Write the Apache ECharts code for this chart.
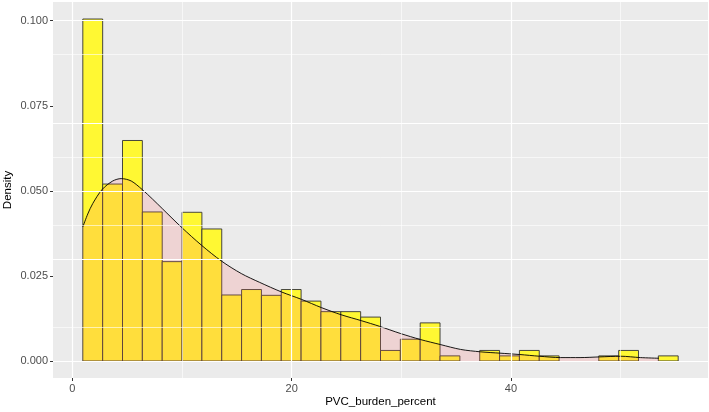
<!DOCTYPE html>
<html>
<head>
<meta charset="utf-8">
<script src="https://cdn.jsdelivr.net/npm/echarts@6/dist/echarts.min.js"></script>
<style>
html,body{margin:0;padding:0;background:#fff;}
#chart{width:709px;height:412px;}
</style>
</head>
<body>
<div id="chart"></div>
<script>
// ---- data ----
var binStart = 0.95;
var binWidth = 1.81;
var histDensity = [0.1005, 0.0520, 0.0648, 0.0438, 0.0292, 0.0437, 0.0388, 0.0194, 0.0210, 0.0193,
                   0.0210, 0.0176, 0.0145, 0.0145, 0.0129, 0.0031, 0.0064, 0.0112, 0.0015, 0.0,
                   0.0031, 0.0015, 0.0031, 0.0015, 0.0, 0.0, 0.0015, 0.0031, 0.0, 0.0015];
var densityX = [0.95, 1.4, 1.86, 2.71, 3.68, 4.45, 5.36, 6.36, 7.3, 8.19, 9.98, 11.78, 13.58, 15.4, 17.08,
                19.06, 20.9, 22.7, 24.5, 26.4, 28.0, 29.9, 31.75, 33.6, 35.4, 37.2, 39.0, 40.8,
                42.6, 44.5, 46.3, 48.1, 50.0, 51.8, 53.5];
var densityY = [0.0394, 0.0432, 0.0463, 0.0504, 0.0529, 0.0536, 0.0529, 0.0504, 0.0476, 0.0448, 0.0392, 0.0340, 0.0294, 0.0257, 0.0231,
                0.0203, 0.0181, 0.0157, 0.0136, 0.0118, 0.0102, 0.0081, 0.0063, 0.0048, 0.0034, 0.0027, 0.0023, 0.0019,
                0.0014, 0.0010, 0.0010, 0.0012, 0.0014, 0.0010, 0.0008];
var xTicks = [0, 20, 40];
var xMinor = [10, 30, 50];
var yTicks = [0, 0.025, 0.05, 0.075, 0.1];
var yMinor = [0.0125, 0.0375, 0.0625, 0.0875];
var xTitle = 'PVC_burden_percent';
var yTitle = 'Density';

// ---- build ----
var histData = histDensity.map(function (d, i) {
  return [binStart + i * binWidth, binStart + (i + 1) * binWidth, d];
});
var densData = densityX.map(function (x, i) { return [x, densityY[i]]; });

var gridLines = [];
xTicks.forEach(function (v) { gridLines.push({xAxis: v, lineStyle: {width: 1.2}}); });
xMinor.forEach(function (v) { gridLines.push({xAxis: v, lineStyle: {width: 0.6}}); });
yTicks.forEach(function (v) { gridLines.push({yAxis: v, lineStyle: {width: 1.2}}); });
yMinor.forEach(function (v) { gridLines.push({yAxis: v, lineStyle: {width: 0.6}}); });

var chart = echarts.init(document.getElementById('chart'), null, {renderer: 'canvas'});
chart.setOption({
  animation: false,
  textStyle: {fontFamily: 'Liberation Sans, Arial, sans-serif'},
  grid: {left: 53, right: 1, top: 2, bottom: 34, show: true, backgroundColor: '#EBEBEB', borderWidth: 0,
         containLabel: false, outerBoundsMode: 'none'},
  xAxis: {
    type: 'value', min: -1.77, max: 57.97,
    axisLine: {show: false, onZero: false},
    axisTick: {show: true, customValues: xTicks, length: 3, lineStyle: {color: '#333333', width: 1}},
    axisLabel: {customValues: xTicks, color: '#4D4D4D', fontSize: 11, margin: 5},
    splitLine: {show: false},
    name: xTitle, nameLocation: 'middle', nameGap: 18, nameMoveOverlap: false,
    nameTextStyle: {color: '#000', fontSize: 11.5}
  },
  yAxis: {
    type: 'value', min: -0.005, max: 0.1055,
    axisLine: {show: false, onZero: false},
    axisTick: {show: true, customValues: yTicks, length: 3, lineStyle: {color: '#333333', width: 1}},
    axisLabel: {customValues: yTicks, color: '#4D4D4D', fontSize: 11, margin: 5,
      formatter: function (v) { return v.toFixed(3); }},
    splitLine: {show: false},
    name: yTitle, nameLocation: 'middle', nameGap: 39, nameMoveOverlap: false,
    nameTextStyle: {color: '#000', fontSize: 11.5}
  },
  series: [
    {
      type: 'line', data: [], z: 1, silent: true,
      markLine: {silent: true, symbol: 'none', label: {show: false},
        lineStyle: {color: '#FFFFFF', type: 'solid'}, data: gridLines, animation: false}
    },
    {
      type: 'custom', z: 2, silent: true,
      data: histData,
      renderItem: function (params, api) {
        var p0 = api.coord([api.value(0), api.value(2)]);
        var p1 = api.coord([api.value(1), 0]);
        if (api.value(2) <= 0) return null;
        return {
          type: 'rect',
          shape: {x: p0[0], y: p0[1], width: p1[0] - p0[0], height: p1[1] - p0[1]},
          style: {fill: '#FFF833', stroke: '#333333', lineWidth: 0.9}
        };
      }
    },
    {
      type: 'line', z: 3, silent: true,
      data: densData, showSymbol: false, smooth: 0.3,
      lineStyle: {color: '#000000', width: 0.9},
      areaStyle: {color: 'rgba(255,102,102,0.25)'}
    }
  ]
});
</script>
</body>
</html>
